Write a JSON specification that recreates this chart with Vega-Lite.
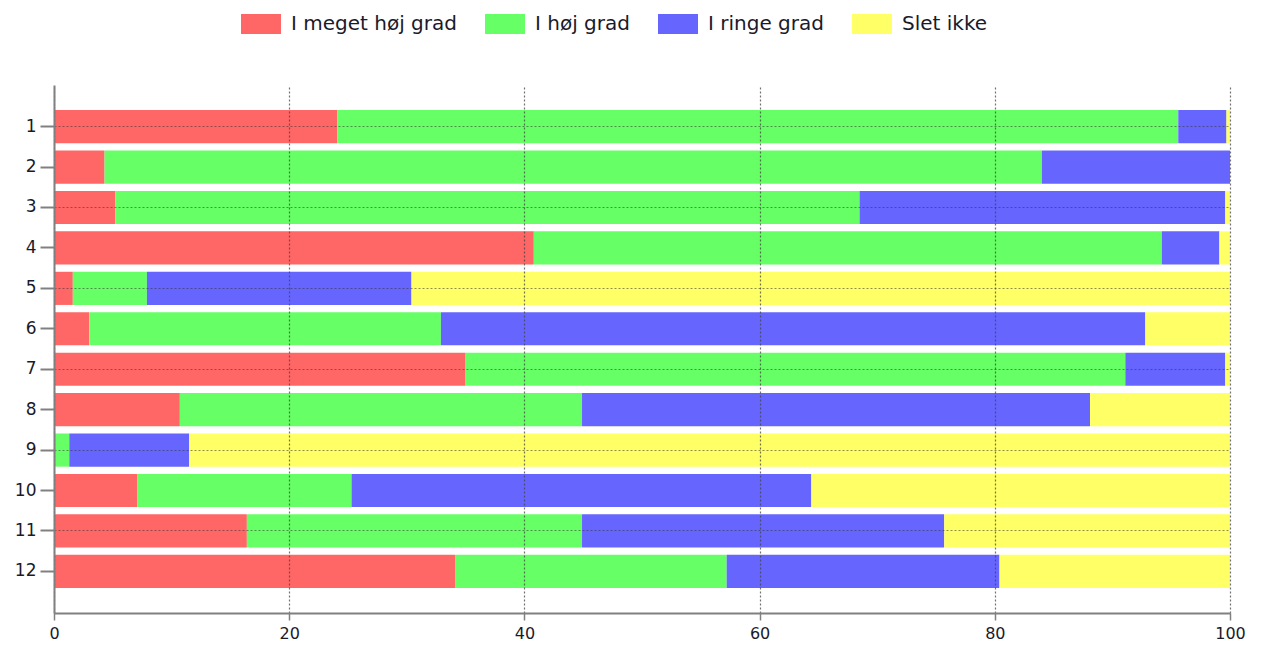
{
  "$schema": "https://vega.github.io/schema/vega-lite/v6.json",
  "width": 1176,
  "height": 528,
  "autosize": {"type": "none"},
  "padding": {"left": 54, "top": 85, "right": 31, "bottom": 32},
  "background": "white",
  "config": {
    "view": {"stroke": null},
    "font": "DejaVu Sans"
  },
  "data": {
    "values": [
      {"q": 1, "cat": "I meget høj grad", "o": 1, "v": 24.1},
      {"q": 1, "cat": "I høj grad", "o": 2, "v": 71.5},
      {"q": 1, "cat": "I ringe grad", "o": 3, "v": 4.1},
      {"q": 1, "cat": "Slet ikke", "o": 4, "v": 0.3},
      {"q": 2, "cat": "I meget høj grad", "o": 1, "v": 4.3},
      {"q": 2, "cat": "I høj grad", "o": 2, "v": 79.7},
      {"q": 2, "cat": "I ringe grad", "o": 3, "v": 16.0},
      {"q": 2, "cat": "Slet ikke", "o": 4, "v": 0},
      {"q": 3, "cat": "I meget høj grad", "o": 1, "v": 5.2},
      {"q": 3, "cat": "I høj grad", "o": 2, "v": 63.3},
      {"q": 3, "cat": "I ringe grad", "o": 3, "v": 31.1},
      {"q": 3, "cat": "Slet ikke", "o": 4, "v": 0.4},
      {"q": 4, "cat": "I meget høj grad", "o": 1, "v": 40.8},
      {"q": 4, "cat": "I høj grad", "o": 2, "v": 53.4},
      {"q": 4, "cat": "I ringe grad", "o": 3, "v": 4.9},
      {"q": 4, "cat": "Slet ikke", "o": 4, "v": 0.9},
      {"q": 5, "cat": "I meget høj grad", "o": 1, "v": 1.6},
      {"q": 5, "cat": "I høj grad", "o": 2, "v": 6.3},
      {"q": 5, "cat": "I ringe grad", "o": 3, "v": 22.5},
      {"q": 5, "cat": "Slet ikke", "o": 4, "v": 69.6},
      {"q": 6, "cat": "I meget høj grad", "o": 1, "v": 3.0},
      {"q": 6, "cat": "I høj grad", "o": 2, "v": 29.9},
      {"q": 6, "cat": "I ringe grad", "o": 3, "v": 59.9},
      {"q": 6, "cat": "Slet ikke", "o": 4, "v": 7.2},
      {"q": 7, "cat": "I meget høj grad", "o": 1, "v": 35.0},
      {"q": 7, "cat": "I høj grad", "o": 2, "v": 56.1},
      {"q": 7, "cat": "I ringe grad", "o": 3, "v": 8.5},
      {"q": 7, "cat": "Slet ikke", "o": 4, "v": 0.4},
      {"q": 8, "cat": "I meget høj grad", "o": 1, "v": 10.7},
      {"q": 8, "cat": "I høj grad", "o": 2, "v": 34.2},
      {"q": 8, "cat": "I ringe grad", "o": 3, "v": 43.2},
      {"q": 8, "cat": "Slet ikke", "o": 4, "v": 11.9},
      {"q": 9, "cat": "I meget høj grad", "o": 1, "v": 0},
      {"q": 9, "cat": "I høj grad", "o": 2, "v": 1.3},
      {"q": 9, "cat": "I ringe grad", "o": 3, "v": 10.2},
      {"q": 9, "cat": "Slet ikke", "o": 4, "v": 88.5},
      {"q": 10, "cat": "I meget høj grad", "o": 1, "v": 7.1},
      {"q": 10, "cat": "I høj grad", "o": 2, "v": 18.2},
      {"q": 10, "cat": "I ringe grad", "o": 3, "v": 39.1},
      {"q": 10, "cat": "Slet ikke", "o": 4, "v": 35.6},
      {"q": 11, "cat": "I meget høj grad", "o": 1, "v": 16.4},
      {"q": 11, "cat": "I høj grad", "o": 2, "v": 28.5},
      {"q": 11, "cat": "I ringe grad", "o": 3, "v": 30.8},
      {"q": 11, "cat": "Slet ikke", "o": 4, "v": 24.3},
      {"q": 12, "cat": "I meget høj grad", "o": 1, "v": 34.1},
      {"q": 12, "cat": "I høj grad", "o": 2, "v": 23.1},
      {"q": 12, "cat": "I ringe grad", "o": 3, "v": 23.2},
      {"q": 12, "cat": "Slet ikke", "o": 4, "v": 19.6}
    ]
  },
  "mark": {"type": "bar", "strokeWidth": 0},
  "encoding": {
    "y": {
      "field": "q",
      "type": "ordinal",
      "sort": "ascending",
      "scale": {"paddingInner": 0.18, "paddingOuter": 0.62},
      "axis": {
        "title": null,
        "zindex": 1,
        "domainColor": "#808080",
        "domainWidth": 2,
        "tickColor": "#808080",
        "tickWidth": 2,
        "tickSize": 14,
        "labelFontSize": 17,
        "labelColor": "#1a1a2a",
        "labelPadding": 4,
        "grid": true,
        "gridColor": "#333333",
        "gridDash": [2, 2],
        "gridWidth": 1,
        "gridOpacity": {"condition": {"test": "datum.value % 2 === 1", "value": 0.55}, "value": 0}
      }
    },
    "x": {
      "field": "v",
      "type": "quantitative",
      "stack": "zero",
      "scale": {"domain": [0, 100], "nice": false},
      "axis": {
        "title": null,
        "zindex": 1,
        "values": [0, 20, 40, 60, 80, 100],
        "domainColor": "#808080",
        "domainWidth": 2,
        "tickColor": "#808080",
        "tickWidth": 1.5,
        "tickSize": 7,
        "labelFontSize": 16,
        "labelColor": "#1a1a2a",
        "labelPadding": 5,
        "labelFlush": false,
        "grid": true,
        "gridColor": "#444444",
        "gridDash": [2, 2],
        "gridWidth": 1.2,
        "gridOpacity": 0.75
      }
    },
    "color": {
      "field": "cat",
      "type": "nominal",
      "scale": {
        "domain": ["I meget høj grad", "I høj grad", "I ringe grad", "Slet ikke"],
        "range": ["#FF6666", "#66FF66", "#6666FF", "#FFFF66"]
      },
      "legend": {
        "title": null,
        "orient": "none",
        "direction": "horizontal",
        "legendX": 187,
        "legendY": -81,
        "padding": 0,
        "symbolType": "M-1,-0.5H1V0.5H-1Z",
        "symbolSize": 1600,
        "symbolStrokeWidth": 0,
        "symbolOpacity": 1,
        "labelFontSize": 20,
        "labelColor": "#1a1a2a",
        "labelOffset": 10,
        "labelLimit": 400,
        "columnPadding": 28
      }
    },
    "order": {"field": "o", "type": "quantitative"}
  }
}
